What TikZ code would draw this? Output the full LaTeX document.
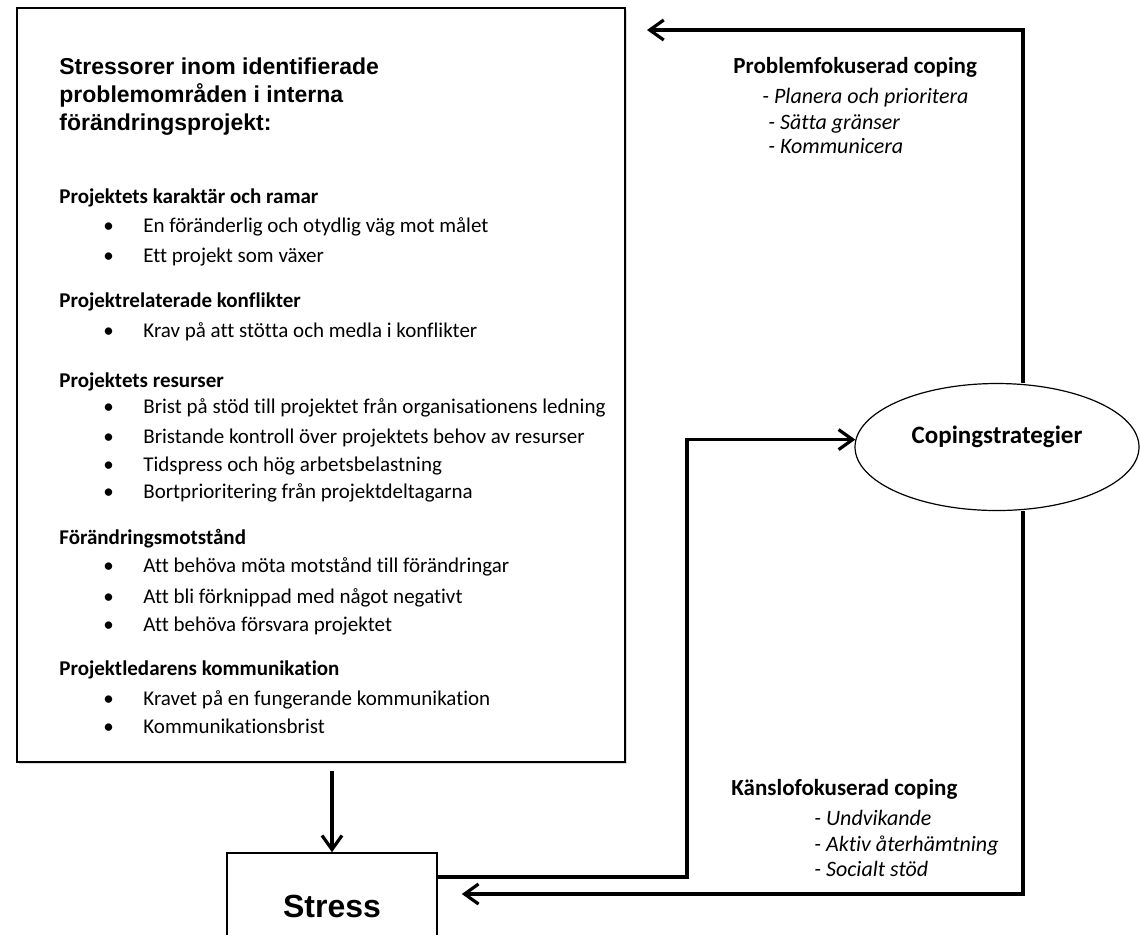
\documentclass[tikz,border=0pt]{standalone}
\usepackage{fontspec}
\setmainfont{Carlito}[Ligatures=NoCommon]
\newfontfamily\headfont{Liberation Sans}
\usetikzlibrary{shapes.geometric, arrows.meta, calc, shadows}

\begin{document}
\begin{tikzpicture}[
  x=0.5pt, y=-0.5pt,
  mainbox/.style={draw, line width=0.9pt, fill=white, minimum width=304pt, minimum height=377pt, inner sep=0pt,
    drop shadow={shadow xshift=0.8pt, shadow yshift=-0.8pt, opacity=0.3}},
  stressbox/.style={draw, line width=0.8pt, fill=white, minimum width=105pt, minimum height=53pt, font=\headfont\bfseries\fontsize{16}{19}\selectfont},
  copbox/.style={draw, ellipse, line width=0.6pt, fill=white, minimum width=142pt, minimum height=63.5pt, text depth=12pt, font=\bfseries\fontsize{12.5}{15}\selectfont},
  head/.style={anchor=west, align=left, inner sep=0pt, font=\headfont\bfseries\fontsize{11.5}{14}\selectfont},
  sect/.style={anchor=base west, inner sep=0pt, font=\bfseries\fontsize{10.5}{12}\selectfont},
  item/.style={anchor=base west, inner sep=0pt, font=\fontsize{10.5}{12}\selectfont},
  strat/.style={anchor=base west, inner sep=0pt, font=\bfseries\fontsize{11.5}{14}\selectfont},
  sub/.style={anchor=base west, inner sep=0pt, font=\itshape\fontsize{11}{13}\selectfont},
  arr/.style={line width=1.6pt, -{Straight Barb[length=7pt, width=10pt]}}
]
  \clip (0,0) rectangle (1140,934);

  % stressors box
  \node[mainbox] (stressors) at (321,385) {};
  \node[head] (title) at (59,97) {Stressorer inom identifierade\\problemområden i interna\\förändringsprojekt:};

  \node[sect] (s1) at (59,203) {Projektets karaktär och ramar};
  \node[item] (s1a) at (103,232) {\makebox[20pt][l]{•}En föränderlig och otydlig väg mot målet};
  \node[item] (s1b) at (103,262) {\makebox[20pt][l]{•}Ett projekt som växer};

  \node[sect] (s2) at (59,307) {Projektrelaterade konflikter};
  \node[item] (s2a) at (103,337) {\makebox[20pt][l]{•}Krav på att stötta och medla i konflikter};

  \node[sect] (s3) at (59,387) {Projektets resurser};
  \node[item] (s3a) at (103,413) {\makebox[20pt][l]{•}Brist på stöd till projektet från organisationens ledning};
  \node[item] (s3b) at (103,443) {\makebox[20pt][l]{•}Bristande kontroll över projektets behov av resurser};
  \node[item] (s3c) at (103,471) {\makebox[20pt][l]{•}Tidspress och hög arbetsbelastning};
  \node[item] (s3d) at (103,498) {\makebox[20pt][l]{•}Bortprioritering från projektdeltagarna};

  \node[sect] (s4) at (59,544) {Förändringsmotstånd};
  \node[item] (s4a) at (103,572) {\makebox[20pt][l]{•}Att behöva möta motstånd till förändringar};
  \node[item] (s4b) at (103,603) {\makebox[20pt][l]{•}Att bli förknippad med något negativt};
  \node[item] (s4c) at (103,631) {\makebox[20pt][l]{•}Att behöva försvara projektet};

  \node[sect] (s5) at (59,675) {Projektledarens kommunikation};
  \node[item] (s5a) at (103,705) {\makebox[20pt][l]{•}Kravet på en fungerande kommunikation};
  \node[item] (s5b) at (103,733) {\makebox[20pt][l]{•}Kommunikationsbrist};

  % stress and coping
  \node[stressbox] (stress) at (332,906) {Stress};
  \node[copbox] (coping) at (997,447) {Copingstrategier};

  \node[strat] (pfc) at (733,73) {Problemfokuserad coping};
  \node[sub] (pfc1) at (762,103) {- Planera och prioritera};
  \node[sub] (pfc2) at (768,129) {- Sätta gränser};
  \node[sub] (pfc3) at (768,153) {- Kommunicera};

  \node[strat] (kfc) at (731,795) {Känslofokuserad coping};
  \node[sub] (kfc1) at (814,825) {- Undvikande};
  \node[sub] (kfc2) at (814,851) {- Aktiv återhämtning};
  \node[sub] (kfc3) at (814,876) {- Socialt stöd};

  % connectors
  \coordinate (topturn) at (1023,30);
  \coordinate (toptip) at (647,30);
  \coordinate (botturn) at (1023,894);
  \coordinate (midturn) at (687,877);

  \draw[arr] ($(stress.north |- stressors.south)+(0,8)$) -- (stress.north);
  \draw[arr] (stress.east |- midturn) -- (midturn) -- (midturn |- coping.177) -- (coping.177);
  \draw[arr] (topturn |- coping.north) -- (topturn) -- (toptip);
  \draw[arr] (botturn |- coping.south) -- (botturn) -- ($(stress.east |- botturn)+(24,0)$);
\end{tikzpicture}
\end{document}
